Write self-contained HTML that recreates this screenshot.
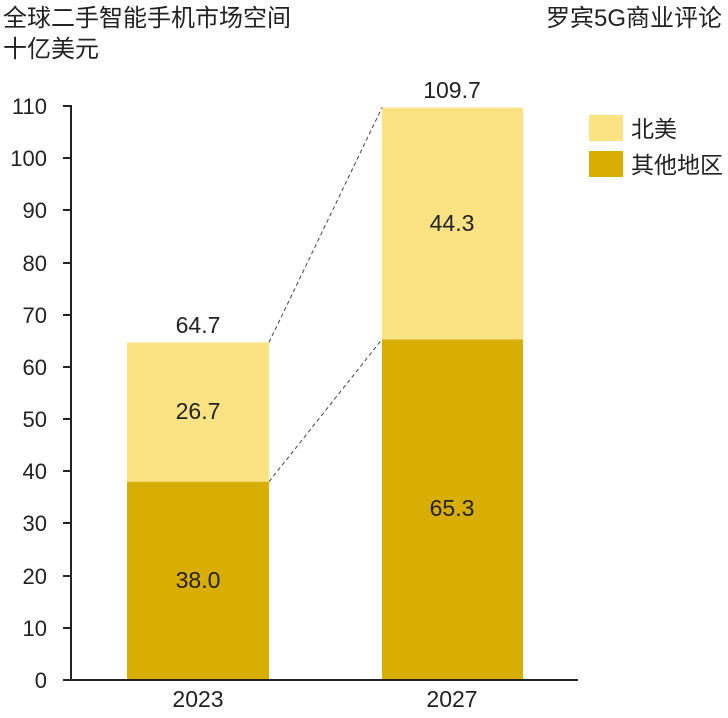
<!DOCTYPE html>
<html><head><meta charset="utf-8"><style>
body{margin:0;background:#fff;}
svg text{font-family:"Liberation Sans","Noto Sans CJK SC",sans-serif;fill:#222;}
</style></head><body>
<svg width="728" height="713" viewBox="0 0 728 713" xmlns="http://www.w3.org/2000/svg">
<text x="3" y="26" font-size="24">全球二手智能手机市场空间</text>
<text x="3" y="57" font-size="24">十亿美元</text>
<text x="722" y="26" font-size="24" text-anchor="end">罗宾5G商业评论</text>
<g font-size="22" text-anchor="end">
<text x="47" y="688">0</text><text x="47" y="636">10</text><text x="47" y="584">20</text>
<text x="47" y="531">30</text><text x="47" y="479">40</text><text x="47" y="427">50</text>
<text x="47" y="375">60</text><text x="47" y="323">70</text><text x="47" y="271">80</text>
<text x="47" y="218">90</text><text x="47" y="166">100</text><text x="47" y="114">110</text>
</g>
<g stroke="#222" stroke-width="2">
<line x1="63" y1="680" x2="71" y2="680"/><line x1="63" y1="628" x2="71" y2="628"/>
<line x1="63" y1="576" x2="71" y2="576"/><line x1="63" y1="523" x2="71" y2="523"/>
<line x1="63" y1="471" x2="71" y2="471"/><line x1="63" y1="419" x2="71" y2="419"/>
<line x1="63" y1="367" x2="71" y2="367"/><line x1="63" y1="315" x2="71" y2="315"/>
<line x1="63" y1="263" x2="71" y2="263"/><line x1="63" y1="210" x2="71" y2="210"/>
<line x1="63" y1="158" x2="71" y2="158"/><line x1="63" y1="106" x2="71" y2="106"/>
</g>
<rect x="127" y="481.7" width="142" height="198.3" fill="#D8AE05"/>
<rect x="127" y="342.4" width="142" height="139.3" fill="#FBE384"/>
<rect x="382" y="339.3" width="141" height="340.7" fill="#D8AE05"/>
<rect x="382" y="107.6" width="141" height="231.7" fill="#FBE384"/>
<g stroke="#444" stroke-width="1" stroke-dasharray="4,3">
<line x1="269" y1="342.4" x2="382" y2="107.6"/>
<line x1="269" y1="481.7" x2="382" y2="339.3"/>
</g>
<line x1="71" y1="105" x2="71" y2="681" stroke="#222" stroke-width="2"/>
<line x1="63" y1="680" x2="578" y2="680" stroke="#222" stroke-width="2"/>
<g font-size="23" text-anchor="middle">
<text x="198" y="588">38.0</text><text x="198" y="419">26.7</text><text x="198" y="333">64.7</text>
<text x="452" y="516">65.3</text><text x="452" y="231">44.3</text><text x="452" y="98">109.7</text>
<text x="198" y="707">2023</text><text x="452" y="707">2027</text>
</g>
<rect x="589" y="115" width="34" height="26" fill="#FBE384"/>
<rect x="589" y="151" width="34" height="26" fill="#D8AE05"/>
<text x="631" y="137" font-size="23">北美</text>
<text x="631" y="173" font-size="23">其他地区</text>
</svg>
</body></html>
